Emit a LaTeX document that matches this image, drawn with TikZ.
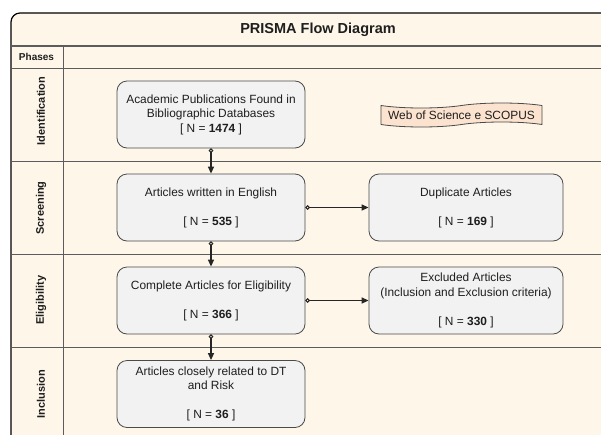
\documentclass[tikz,border=0pt]{standalone}
\usepackage{fontspec}
\setmainfont{Liberation Sans}
\usetikzlibrary{arrows.meta, shapes.symbols}

\definecolor{lanebg}{HTML}{FEF7E9}
\definecolor{boxfill}{HTML}{F2F2F2}
\definecolor{boxline}{HTML}{4A4A4A}
\definecolor{tapefill}{HTML}{FBE3CF}
\definecolor{laneline}{HTML}{5C5C5C}
\definecolor{inktext}{HTML}{1E1E1E}

\begin{document}
\begin{tikzpicture}[x=1pt, y=-1pt, line join=round, text=inktext,
	font=\fontsize{11.9}{14.5}\selectfont,
	stagebox/.style={draw=boxline, fill=boxfill, rounded corners=10pt, align=center,
		line width=0.8pt, inner sep=0pt, minimum height=67pt},
	leftbox/.style={stagebox, minimum width=188pt},
	rightbox/.style={stagebox, minimum width=194pt},
	phaselabel/.style={rotate=90, font=\bfseries\fontsize{11}{13}\selectfont},
	flow/.style={{Circle[open, length=4.5pt, width=4.5pt, line width=1pt]}-{Triangle[length=7pt, width=6pt]},
		line width=1.4pt, draw=black!85}]
	
	% --- Constants ---
	\def\xl{11}      % left edge of the frame
	\def\xc{63}      % phase column
	\def\xr{640}     % frame runs past the page
	\def\yb{450}
	\def\xmid{211}   % centre of left column of boxes
	\def\xside{466}  % centre of right column of boxes
	
	\useasboundingbox (0,0) rectangle (601,434);
	\clip (0,0) rectangle (601,434);
	
	% =======================================================
	% POOL AND LANES
	% =======================================================
	\draw[fill=lanebg, line width=1.2pt] (\xl,\yb) [rounded corners=9pt] -- (\xl,13)
	[sharp corners] -- (\xr,13) -- (\xr,\yb) -- cycle;
	\draw[laneline, line width=1.1pt] (\xl,46) -- (\xr,46);
	\foreach \yl in {68, 161, 254, 347}
	\draw[laneline, line width=0.8pt] (\xl,\yl) -- (\xr,\yl);
	\draw[laneline, line width=0.8pt] (\xc,46) -- (\xc,\yb);
	
	\node[font=\bfseries\fontsize{14.5}{17}\selectfont] (title) at (318,30) {PRISMA Flow Diagram};
	\node[font=\bfseries\fontsize{10}{12}\selectfont] (phases) at (36.5,57) {Phases};
	
	% Phase names
	\foreach \name/\yc in {Identification/111, Screening/208, Eligibility/300, Inclusion/394}
	\node[phaselabel] (lbl\name) at (41,\yc) {\name};
	
	% =======================================================
	% BOXES
	% =======================================================
	\node[leftbox] (found) at (\xmid,114.5)
	{Academic Publications Found in\\Bibliographic Databases\\{[} N = \textbf{1474} ]};
	\node[tape, draw=boxline, fill=tapefill, line width=0.8pt, minimum width=161pt,
	minimum height=24pt, inner sep=2pt, tape bend height=5pt] (wos) at (461.5,115)
	{Web of Science e SCOPUS};
	
	\node[leftbox] (english) at (\xmid,207.5)
	{Articles written in English\\[\baselineskip]{[} N = \textbf{535} ]};
	\node[rightbox] (dupl) at (\xside,207.5)
	{Duplicate Articles\\[\baselineskip]{[} N = \textbf{169} ]};
	
	\node[leftbox] (elig) at (\xmid,300.5)
	{Complete Articles for Eligibility\\[\baselineskip]{[} N = \textbf{366} ]};
	\node[rightbox] (excl) at (\xside,300.5)
	{Excluded Articles\\(Inclusion and Exclusion criteria)\\[\baselineskip]{[} N = \textbf{330} ]};
	
	\node[leftbox] (incl) at (\xmid,394)
	{Articles closely related to DT\\and Risk\\[\baselineskip]{[} N = \textbf{36} ]};
	
	% =======================================================
	% CONNECTORS
	% =======================================================
	\draw[flow] (found.south) -- (english.north);
	\draw[flow] (english.south) -- (elig.north);
	\draw[flow] (elig.south) -- (incl.north);
	\draw[flow] (english.east) -- (dupl.west);
	\draw[flow] (elig.east) -- (excl.west);
	
\end{tikzpicture}
\end{document}
